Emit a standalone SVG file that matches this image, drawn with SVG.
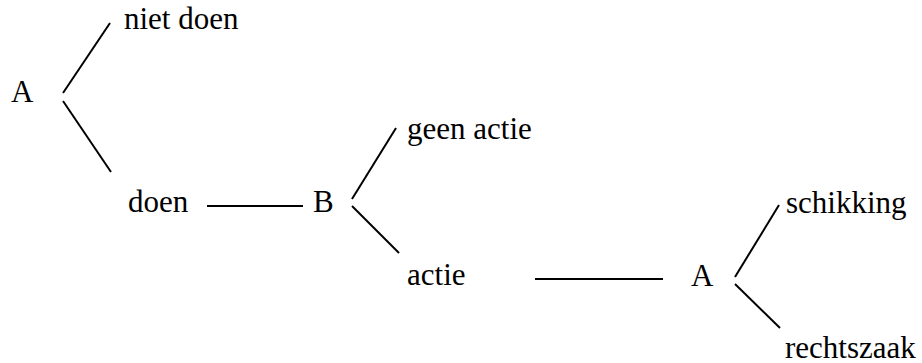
<svg xmlns="http://www.w3.org/2000/svg" width="922" height="363" viewBox="0 0 922 363">
  <rect width="922" height="363" fill="#fff"/>
  <!-- branch connectors share one stroke, set on the group -->
  <g id="connectors" stroke="#000" stroke-width="2" fill="none">
    <line x1="63" y1="93" x2="110" y2="23"/>
    <line x1="63" y1="101" x2="111" y2="172"/>
    <line x1="207" y1="206" x2="303" y2="206"/>
    <line x1="352" y1="199" x2="396" y2="128"/>
    <line x1="352" y1="206" x2="399" y2="253"/>
    <line x1="535" y1="279" x2="663" y2="279"/>
    <line x1="735" y1="277" x2="779" y2="205"/>
    <line x1="735" y1="284" x2="780" y2="328"/>
  </g>
  <g id="node-a1"><text x="11" y="102" font-family="Liberation Serif" font-size="31">A</text></g>
  <g id="node-niet-doen"><text x="124" y="29" font-family="Liberation Serif" font-size="31">niet doen</text></g>
  <g id="node-doen"><text x="128" y="212" font-family="Liberation Serif" font-size="31">doen</text></g>
  <g id="node-b"><text x="313" y="212" font-family="Liberation Serif" font-size="31">B</text></g>
  <g id="node-geen-actie"><text x="407" y="139" font-family="Liberation Serif" font-size="31">geen actie</text></g>
  <g id="node-actie"><text x="407" y="285" font-family="Liberation Serif" font-size="31">actie</text></g>
  <g id="node-a2"><text x="691" y="286" font-family="Liberation Serif" font-size="31">A</text></g>
  <g id="node-schikking"><text x="786" y="213" font-family="Liberation Serif" font-size="31">schikking</text></g>
  <g id="node-rechtszaak"><text x="785" y="358" font-family="Liberation Serif" font-size="31">rechtszaak</text></g>
</svg>
